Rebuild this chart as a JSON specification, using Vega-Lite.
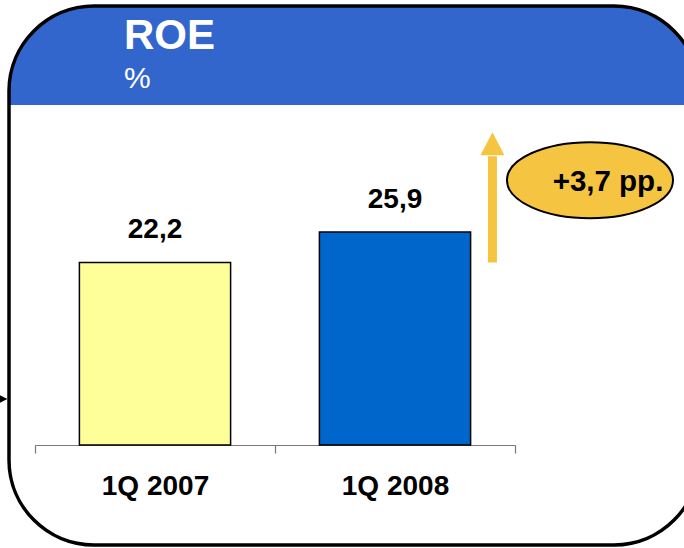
{
  "$schema": "https://vega.github.io/schema/vega-lite/v6.json",
  "width": 690,
  "height": 539,
  "autosize": {"type": "none"},
  "padding": {"left": 9, "top": 6, "right": -15, "bottom": 3},
  "background": "white",
  "config": {
    "font": "Liberation Sans",
    "locale": {"number": {"decimal": ",", "thousands": ".", "grouping": [3], "currency": ["", " €"]}},
    "view": {
      "cornerRadius": 85,
      "stroke": "black",
      "strokeWidth": 3.5,
      "fill": {
        "gradient": "linear", "x1": 0, "y1": 0, "x2": 0, "y2": 1,
        "stops": [
          {"offset": 0, "color": "#3366CC"},
          {"offset": 0.183, "color": "#3366CC"},
          {"offset": 0.183, "color": "#FFFFFF"},
          {"offset": 1, "color": "#FFFFFF"}
        ]
      }
    }
  },
  "title": {
    "text": "ROE",
    "subtitle": "%",
    "anchor": "start",
    "frame": "group",
    "orient": "top",
    "offset": 0,
    "dx": 115,
    "dy": 89,
    "font": "Liberation Sans",
    "fontSize": 42,
    "fontWeight": "bold",
    "color": "white",
    "subtitleFont": "Liberation Sans",
    "subtitleFontSize": 30,
    "subtitleColor": "white",
    "subtitlePadding": 6
  },
  "data": {"values": [
    {"period": "1Q 2007", "roe": 22.2},
    {"period": "1Q 2008", "roe": 25.9}
  ]},
  "encoding": {
    "x": {
      "field": "period", "type": "nominal", "sort": null,
      "scale": {"range": [26, 506], "paddingInner": 0, "paddingOuter": 0},
      "axis": {
        "title": null, "orient": "bottom", "offset": -100, "labelAngle": 0,
        "tickBand": "extent", "tickSize": 8, "tickColor": "#777777", "domainColor": "#777777",
        "domainWidth": 1.2, "tickWidth": 1.2,
        "labelFont": "Liberation Sans", "labelFontSize": 28, "labelFontWeight": "bold",
        "labelColor": "black", "labelPadding": 19, "grid": false
      }
    }
  },
  "layer": [
    {
      "mark": {"type": "bar", "width": {"band": 0.63}, "stroke": "black", "strokeWidth": 1.5},
      "encoding": {
        "y": {"field": "roe", "type": "quantitative", "scale": {"domain": [0, 40], "range": [439, 110]}, "axis": null},
        "fill": {"field": "period", "type": "nominal", "scale": {"domain": ["1Q 2007", "1Q 2008"], "range": ["#FFFF99", "#0066CC"]}, "legend": null}
      }
    },
    {
      "mark": {"type": "text", "baseline": "alphabetic", "dy": -24, "fontSize": 28, "fontWeight": "bold", "color": "black"},
      "encoding": {
        "y": {"field": "roe", "type": "quantitative"},
        "text": {"field": "roe", "type": "quantitative", "format": ".1f"}
      }
    },
    {
      "data": {"values": [{"label": "+3,7 pp."}]},
      "layer": [
        {
          "mark": {"type": "rule", "color": "#F5C542", "strokeWidth": 9},
          "encoding": {
            "x": {"datum": "1Q 2008", "type": "nominal", "bandPosition": 0.906},
            "y": {"datum": 22.2, "type": "quantitative"},
            "y2": {"datum": 35.1}
          }
        },
        {
          "mark": {"type": "point", "shape": "M -1 1 L 1 1 L 0 -0.9 Z", "filled": true, "size": 576, "color": "#F5C542", "opacity": 1, "strokeWidth": 0},
          "encoding": {
            "x": {"datum": "1Q 2008", "type": "nominal", "bandPosition": 0.906},
            "y": {"datum": 36.7, "type": "quantitative"}
          }
        },
        {
          "mark": {"type": "point", "shape": "M -1 0 A 1 0.458 0 1 1 1 0 A 1 0.458 0 1 1 -1 0 Z", "filled": true, "fill": "#F5C542", "stroke": "black", "strokeWidth": 2, "size": 27556, "opacity": 1},
          "encoding": {
            "x": {"datum": "1Q 2008", "type": "nominal", "bandPosition": 1.3125},
            "y": {"datum": 32.2, "type": "quantitative"}
          }
        },
        {
          "mark": {"type": "text", "baseline": "middle", "align": "center", "dx": 18, "dy": 2, "fontSize": 29.5, "fontWeight": "bold", "color": "black"},
          "encoding": {
            "x": {"datum": "1Q 2008", "type": "nominal", "bandPosition": 1.3125},
            "y": {"datum": 32.2, "type": "quantitative"},
            "text": {"field": "label", "type": "nominal"}
          }
        },
        {
          "mark": {"type": "point", "shape": "M -1 -1 L 1 0 L -1 1 Z", "filled": true, "size": 144, "color": "black", "opacity": 1, "strokeWidth": 0},
          "encoding": {
            "x": {"datum": "1Q 2007", "type": "nominal", "bandPosition": -0.14},
            "y": {"datum": 5.6, "type": "quantitative"}
          }
        }
      ]
    }
  ]
}
